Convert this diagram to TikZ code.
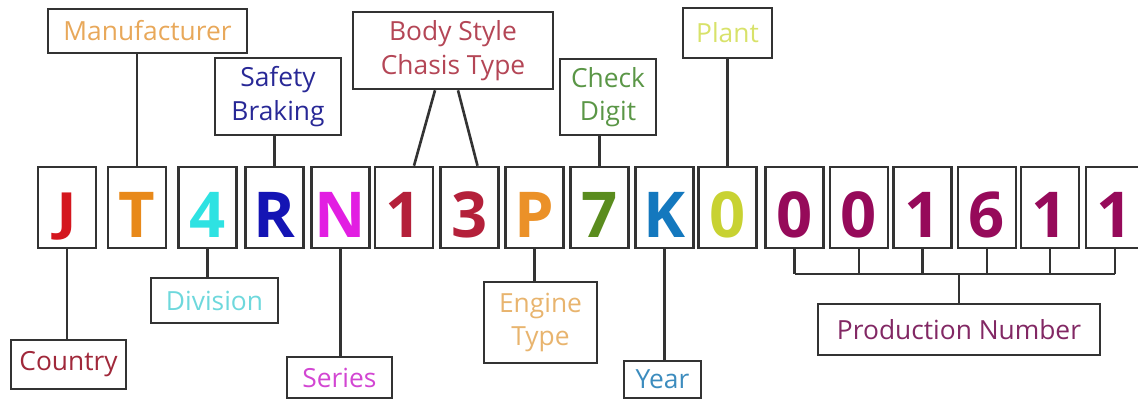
\documentclass[tikz,border=0pt]{standalone}
\usepackage{fontspec}
\setmainfont{Open Sans}
\usetikzlibrary{positioning}
\definecolor{edge}{HTML}{333333}
\definecolor{cJ}{HTML}{D4161E}
\definecolor{cT}{HTML}{E8891A}
\definecolor{cF}{HTML}{2EE2E2}
\definecolor{cR}{HTML}{1414B4}
\definecolor{cN}{HTML}{E21EE2}
\definecolor{cB}{HTML}{B4203A}
\definecolor{cP}{HTML}{EB9128}
\definecolor{cS}{HTML}{5A8C1E}
\definecolor{cK}{HTML}{1478BE}
\definecolor{cZ}{HTML}{C8D232}
\definecolor{cD}{HTML}{960A5A}
\definecolor{tManu}{HTML}{E8A85A}
\definecolor{tSafe}{HTML}{282896}
\definecolor{tBody}{HTML}{B44656}
\definecolor{tCheck}{HTML}{5A9646}
\definecolor{tPlant}{HTML}{D8E26A}
\definecolor{tCountry}{HTML}{A0283A}
\definecolor{tDiv}{HTML}{6ED8DC}
\definecolor{tSeries}{HTML}{D246D2}
\definecolor{tEngine}{HTML}{E8B46E}
\definecolor{tYear}{HTML}{3C8CBE}
\definecolor{tProd}{HTML}{822864}
\tikzset{
    char/.style ={draw=edge, minimum width=1.16cm, minimum height=1.62cm, inner sep=0pt,
        text height=1.2cm, text depth=0pt,
        font=\fontsize{36}{36}\bfseries\selectfont},
    tag/.style ={draw=edge, align=center, inner sep=0pt,
        font=\fontsize{15}{19}\selectfont},
    link/.style={draw=edge}
}
\begin{document}
\begin{tikzpicture}[x=0.02cm, y=-0.02cm, line width=1.5pt]
    \useasboundingbox (0,0) rectangle (1138,400);
    % characters of the number
    \foreach \i/\x/\c/\col in {0/67/{\raisebox{0.17cm}{\scalebox{1}[0.81]{J}}}/cJ,
        1/137/T/cT, 2/207.5/4/cF, 3/274.5/R/cR,
        4/340.5/N/cN, 5/404/1/cB, 6/469.5/3/cB, 7/534.5/P/cP, 8/599.5/7/cS,
        9/664.5/K/cK, 10/727.5/0/cZ, 11/794.5/0/cD, 12/859/0/cD, 13/922.5/1/cD,
        14/987/6/cD, 15/1050/1/cD, 16/1115/1/cD}
        \node[char, text=\col] (c\i) at (\x,207.5) {\c};

    % labels above
    \node[tag, text=tManu, minimum width=3.98cm, minimum height=0.88cm] (manu) at (147.5,31) {Manufacturer};
    \node[tag, text=tSafe, minimum width=2.52cm, minimum height=1.54cm] (safe) at (278,96.5) {Safety\\Braking};
    \node[tag, text=tBody, minimum width=4cm, minimum height=1.54cm] (body) at (453,50.5) {Body Style\\Chasis Type};
    \node[tag, text=tCheck, minimum width=1.92cm, minimum height=1.52cm] (check) at (608,97) {Check\\Digit};
    \node[tag, text=tPlant, minimum width=1.78cm, minimum height=1cm] (plant) at (727.5,33) {Plant};

    % labels below
    \node[tag, text=tCountry, minimum width=2.3cm, minimum height=0.98cm] (country) at (68.5,364.5) {Country};
    \node[tag, text=tDiv, minimum width=2.54cm, minimum height=0.9cm] (div) at (214.5,300.5) {Division};
    \node[tag, text=tSeries, minimum width=2.1cm, minimum height=0.82cm] (series) at (339.5,377.5) {Series};
    \node[tag, text=tEngine, minimum width=2.26cm, minimum height=1.62cm] (engine) at (540.5,322.5) {Engine\\Type};
    \node[tag, text=tYear, minimum width=1.54cm, minimum height=0.74cm] (year) at (662.5,379.5) {Year};
    \node[tag, text=tProd, minimum width=5.64cm, minimum height=1.02cm] (prod) at (959,329.5) {Production Number};

    % connectors
    \draw[link] (c1.north) -- (c1.north |- manu.south);
    \draw[link] (c3.north) -- (c3.north |- safe.south);
    \draw[link] ([xshift=-0.36cm]body.south) -- ([xshift=0.2cm]c5.north);
    \draw[link] ([xshift=0.1cm]body.south) -- ([xshift=0.16cm]c6.north);
    \draw[link] (c8.north) -- (c8.north |- check.south);
    \draw[link] (c10.north) -- (c10.north |- plant.south);
    \draw[link] (c0.south) -- (c0.south |- country.north);
    \draw[link] (c2.south) -- (c2.south |- div.north);
    \draw[link] (c4.south) -- (c4.south |- series.north);
    \draw[link] (c7.south) -- (c7.south |- engine.north);
    \draw[link] (c9.south) -- (c9.south |- year.north);

    % production number bracket
    \coordinate (bar) at (959,274);
    \foreach \i in {11,...,16}
        \draw[link] (c\i.south) -- (c\i.south |- bar);
    \draw[link] (c11.south |- bar) -- (c16.south |- bar);
    \draw[link] (bar) -- (prod.north);
\end{tikzpicture}
\end{document}
